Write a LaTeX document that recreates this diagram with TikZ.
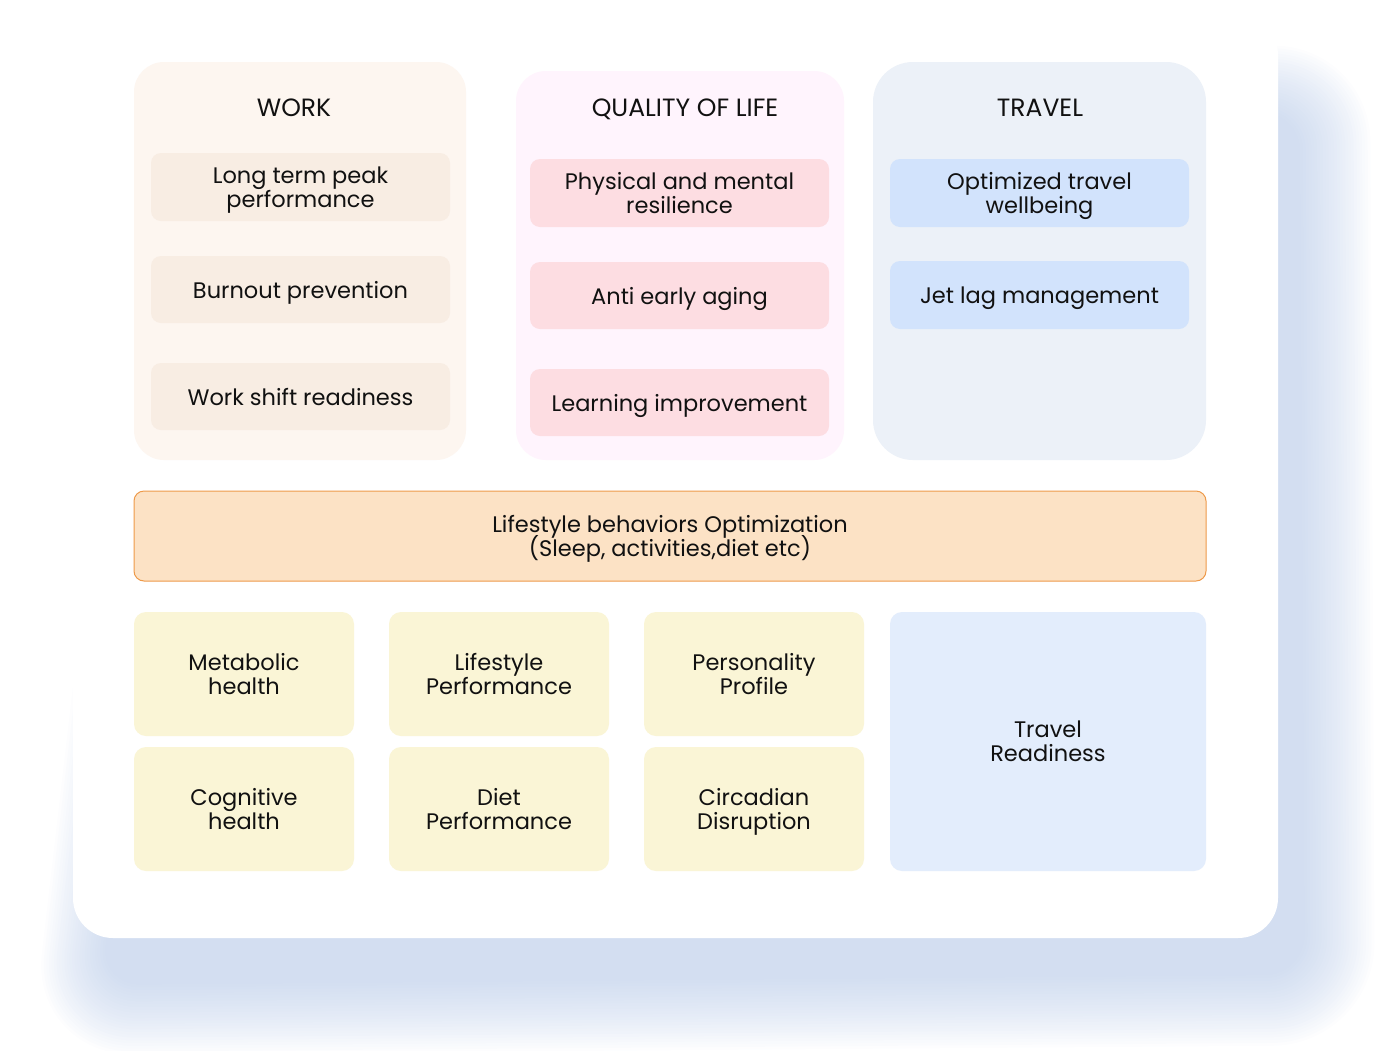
\documentclass[tikz,border=0pt]{standalone}
\usepackage{fontspec}
\setmainfont{Poppins}
\definecolor{workbg}{HTML}{FDF6F0}
\definecolor{workitem}{HTML}{F8EDE3}
\definecolor{qolbg}{HTML}{FFF4FD}
\definecolor{qolitem}{HTML}{FDDDE2}
\definecolor{travbg}{HTML}{ECF1F8}
\definecolor{travitem}{HTML}{D2E3FC}
\definecolor{orfill}{HTML}{FCE2C5}
\definecolor{ordraw}{HTML}{EE9A4A}
\definecolor{gridbg}{HTML}{FAF5D6}
\definecolor{readybg}{HTML}{E3EDFC}
\definecolor{shadowc}{HTML}{B1C5E6}
\definecolor{ink}{HTML}{111111}
\begin{document}
\lineskiplimit=-30pt
\begin{tikzpicture}[x=1pt,y=-1pt,
  txt/.style={font=\fontsize{22.5}{24}\selectfont, text=ink, align=center, text depth=0pt},
  panel/.style={inner sep=0pt, outer sep=0pt, rounded corners=30pt},
  item/.style={txt, inner sep=0pt, outer sep=0pt, rounded corners=10pt, minimum width=299pt},
  cell/.style={txt, inner sep=0pt, outer sep=0pt, rounded corners=12pt, fill=gridbg, minimum width=220pt, minimum height=124pt},
  title/.style={txt, font=\fontsize{25}{28}\selectfont}]
\useasboundingbox (0,0) rectangle (1379,1050);
% shadow
\foreach \k in {0,...,25}{
  \pgfmathsetmacro{\d}{2.8*\k}
  \fill[shadowc, fill opacity=0.031, rounded corners=40pt+2.5*\k]
    (210-\d,180-\d) -- (1300+\d,110-\d) -- (1305+\d,975+\d) -- (100-\d,985+\d) -- cycle;
}
% card
\fill[white, rounded corners=40pt] (73,15) rectangle (1278,938);
% panels
\node[panel, fill=workbg, minimum width=332pt, minimum height=398pt] (work) at (300,261) {};
\node[panel, fill=qolbg, minimum width=328pt, minimum height=389pt] (qol) at (680,265.5) {};
\node[panel, fill=travbg, rounded corners=40pt, minimum width=333pt, minimum height=398pt] (trav) at (1039.5,261) {};
\node[title] (workt) at (294,108) {WORK};
\node[title] (qolt) at (685,108) {QUALITY OF LIFE};
\node[title] (travt) at (1040,108) {TRAVEL};
% work items
\node[item, fill=workitem, minimum height=68pt] (w1) at (300.5,187) {Long term peak\\performance};
\node[item, fill=workitem, minimum height=67pt] (w2) at (300.5,289.5) {Burnout prevention};
\node[item, fill=workitem, minimum height=67pt] (w3) at (300.5,396.5) {Work shift readiness};
% qol items
\node[item, fill=qolitem, minimum height=68pt] (q1) at (679.5,193) {Physical and mental\\resilience};
\node[item, fill=qolitem, minimum height=67pt] (q2) at (679.5,295.5) {Anti early aging};
\node[item, fill=qolitem, minimum height=67pt] (q3) at (679.5,402.5) {Learning improvement};
% travel items
\node[item, fill=travitem, minimum height=68pt] (t1) at (1039.5,193) {Optimized travel\\wellbeing};
\node[item, fill=travitem, minimum height=68pt] (t2) at (1039.5,295) {Jet lag management};
% lifestyle bar
\node[txt, inner sep=0pt, outer sep=0pt, rounded corners=10pt, fill=orfill, draw=ordraw, line width=1pt,
  minimum width=1072pt, minimum height=90pt] (life) at (670,536) {Lifestyle behaviors Optimization\\(Sleep, activities,diet etc)};
% grid
\node[cell] (metab) at (244,674) {Metabolic\\health};
\node[cell] (lifep) at (499,674) {Lifestyle\\Performance};
\node[cell] (pers) at (754,674) {Personality\\Profile};
\node[cell] (cogn) at (244,809) {Cognitive\\health};
\node[cell] (diet) at (499,809) {Diet\\Performance};
\node[cell] (circ) at (754,809) {Circadian\\Disruption};
\node[txt, inner sep=0pt, outer sep=0pt, rounded corners=12pt, fill=readybg, minimum width=316pt, minimum height=259pt] (ready) at (1048,741.5) {Travel\\Readiness};
\end{tikzpicture}
\end{document}
